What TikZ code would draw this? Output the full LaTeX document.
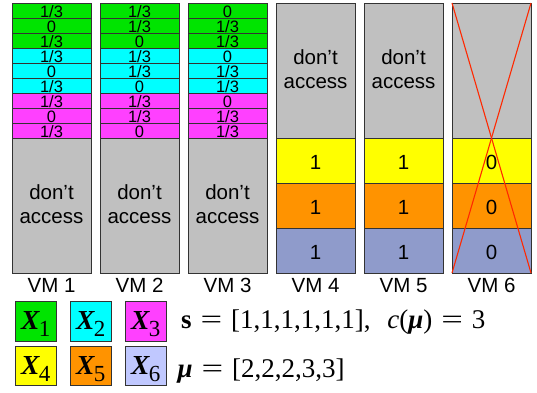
\documentclass[tikz,border=0pt]{standalone}
\usepackage{graphicx}
\usepackage{fontspec}
\setmainfont{Liberation Sans}
\newfontfamily\tms{Liberation Serif}
\definecolor{cgreen}{RGB}{0,228,0}
\definecolor{ccyan}{RGB}{0,255,255}
\definecolor{cmag}{RGB}{255,64,255}
\definecolor{cyel}{RGB}{255,255,0}
\definecolor{corange}{RGB}{255,147,0}
\definecolor{cslate}{RGB}{143,155,203}
\definecolor{clav}{RGB}{192,200,255}
\definecolor{cgray}{RGB}{192,192,192}
\definecolor{cred}{RGB}{255,40,0}
\newcommand\xsub[1]{{\bfseries\itshape X}\kern-0.5pt\raisebox{-7pt}{\fontsize{23}{23}\selectfont #1}}
\newcommand\weq{\hspace{0.33em}\scalebox{1.42}[1]{=}\hspace{0.33em}}
\begin{document}
\begin{tikzpicture}[x=1pt,y=-1pt,
  cell/.style={draw=black!80, line width=0.7pt, anchor=north west, minimum width=79pt, inner sep=0pt, outer sep=0pt},
  small/.style={cell, minimum height=15pt, text height=14pt, text depth=0pt, font=\fontsize{16.5}{16.5}\selectfont},
  tall/.style={cell, minimum height=45pt, text height=17.6pt, text depth=0pt, font=\fontsize{20.5}{24}\selectfont},
  block/.style={cell, minimum height=135pt, align=center, text height=35pt, text depth=0pt, font=\fontsize{20.5}{24}\selectfont},
  lab/.style={anchor=base, inner sep=0pt, font=\fontsize{20.5}{24}\selectfont},
  legbox/.style={draw=black!80, line width=0.7pt, minimum width=41.7pt, minimum height=39.3pt, inner sep=0pt, text height=18pt, text depth=0.8pt, font=\tms\fontsize{27.5}{27.5}\selectfont},
  legtext/.style={anchor=base west, inner sep=0pt, font=\tms\fontsize{27}{27}\selectfont},
  cross/.style={draw=cred, line width=1.1pt}]
\useasboundingbox (0,0) rectangle (537,392);
% VM 1-3 small rows
\foreach \r/\clr/\a/\b/\c in {1/cgreen/{1/3}/{1/3}/0, 2/cgreen/0/{1/3}/{1/3}, 3/cgreen/{1/3}/0/{1/3},
  4/ccyan/{1/3}/{1/3}/0, 5/ccyan/0/{1/3}/{1/3}, 6/ccyan/{1/3}/0/{1/3},
  7/cmag/{1/3}/{1/3}/0, 8/cmag/0/{1/3}/{1/3}, 9/cmag/{1/3}/0/{1/3}} {
  \node[small, fill=\clr] (a\r) at (12,{3+15*(\r-1)}) {\a};
  \node[small, fill=\clr] (b\r) at (100,{3+15*(\r-1)}) {\b};
  \node[small, fill=\clr] (c\r) at (188,{3+15*(\r-1)}) {\c};
}
\node[block, fill=cgray] (ag) at (12,138) {don’t\\access};
\node[block, fill=cgray] (bg) at (100,138) {don’t\\access};
\node[block, fill=cgray] (cg) at (188,138) {don’t\\access};
% VM 4-6
\node[block, fill=cgray] (dg) at (276,3) {don’t\\access};
\node[block, fill=cgray] (eg) at (364,3) {don’t\\access};
\node[block, fill=cgray] (fg) at (452,3) {};
\foreach \n/\x/\v in {d/276/1, e/364/1, f/452/0} {
  \node[tall, fill=cyel] (\n1) at (\x,138) {\v};
  \node[tall, fill=corange] (\n2) at (\x,183) {\v};
  \node[tall, fill=cslate] (\n3) at (\x,228) {\v};
}
\draw[cross] (fg.north west) -- (f3.south east);
\draw[cross] (fg.north east) -- (f3.south west);
% labels
\foreach \n/\x in {1/51.5, 2/139.5, 3/227.5, 4/315.5, 5/403.5, 6/491.5}
  \node[lab] (vm\n) at (\x,292) {VM \n};
% legend
\node[legbox, fill=cgreen] (x1) at (35.8,321.3) {\xsub{1}};
\node[legbox, fill=ccyan] (x2) at (90.8,321.3) {\xsub{2}};
\node[legbox, fill=cmag] (x3) at (145.8,321.3) {\xsub{3}};
\node[legbox, fill=cyel] (x4) at (35.8,365.8) {\xsub{4}};
\node[legbox, fill=corange] (x5) at (90.8,365.8) {\xsub{5}};
\node[legbox, fill=clav] (x6) at (145.8,365.8) {\xsub{6}};
\node[legtext] (eq1) at (181,328.5) {{\bfseries s}\weq[1,1,1,1,1,1],\hspace{0.62em}{\itshape c}({\bfseries\itshape μ})\weq3};
\node[legtext] (eq2) at (177.5,377) {{\bfseries\itshape μ}\weq[2,2,2,3,3]};
\end{tikzpicture}
\end{document}
